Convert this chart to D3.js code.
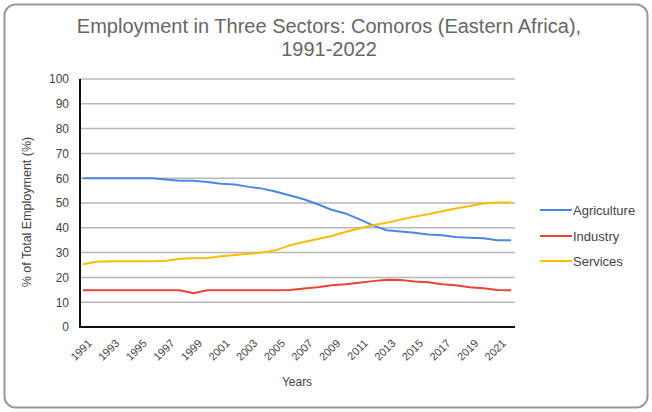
<!DOCTYPE html>
<html><head><meta charset="utf-8">
<script src="https://cdn.jsdelivr.net/npm/d3@7/dist/d3.min.js"></script>
<style>body{margin:0;background:#fff;} svg{display:block;font-family:"Liberation Sans",Arial,sans-serif;}</style>
</head><body><svg id="c" width="652" height="412"></svg>
<script>
const years = d3.range(1991, 2023).map(String);
const agriculture = [60,60,60,60,60,60,59.5,59,59,58.5,57.8,57.5,56.5,55.8,54.5,53,51.5,49.5,47.3,45.8,43.5,41,39,38.5,38,37.3,37,36.3,36,35.8,35,35];
const industry = [14.8,14.8,14.8,14.8,14.8,14.8,14.8,14.8,13.6,14.8,14.8,14.8,14.8,14.8,14.8,14.9,15.5,16,16.8,17.2,17.8,18.5,19.1,19,18.3,18,17.2,16.8,16,15.6,14.9,14.8];
const services = [25.3,26.3,26.5,26.5,26.5,26.5,26.7,27.5,27.7,27.8,28.5,29,29.5,30,31,33,34.3,35.5,36.7,38.3,39.7,41,42,43.3,44.5,45.5,46.7,47.8,48.8,49.8,50.2,50.2];
const seriesNames = ["Agriculture","Industry","Services"];
const seriesColors = ["#4a86e8","#ea4335","#fbbc04"];
const yTicks = d3.range(0, 101, 10);
const xTickLabels = years.filter((y,i)=>i%2===0);
const titleLines = ["Employment in Three Sectors: Comoros (Eastern Africa),","1991-2022"];

const svg = d3.select("#c");
svg.append("rect").attr("x",4.5).attr("y",4.5).attr("width",643).attr("height",403)
  .attr("rx",11).attr("fill","#fff").attr("stroke","#9a9a9a").attr("stroke-width",2);

const L=80, R=515, T=79, B=327;
const x = d3.scalePoint().domain(years).range([L+3, R-4]);
const y = d3.scaleLinear().domain([0,100]).range([B,T]);

// gridlines
svg.append("g").selectAll("line").data(yTicks.filter(d=>d>0)).join("line")
  .attr("x1",L).attr("x2",R).attr("y1",d=>y(d)).attr("y2",d=>y(d))
  .attr("stroke","#b7b7b7").attr("stroke-width",1.5);

// y axis
const ya = svg.append("g").attr("transform",`translate(${L},0)`)
  .call(d3.axisLeft(y).tickValues(yTicks).tickSize(0).tickPadding(11));
ya.select(".domain").remove();
ya.selectAll("text").attr("font-size",12).attr("fill","#444").attr("font-family","Liberation Sans, Arial, sans-serif");

// x axis
const xa = svg.append("g").attr("transform",`translate(0,${B})`)
  .call(d3.axisBottom(x).tickValues(xTickLabels).tickSize(0).tickPadding(6));
xa.select(".domain").remove();
xa.selectAll("text").attr("font-size",11).attr("fill","#444").attr("font-family","Liberation Sans, Arial, sans-serif")
  .attr("text-anchor","end").attr("dy","0.35em")
  .attr("transform","translate(2,10) rotate(-45)");

// axis lines
svg.append("line").attr("x1",L).attr("x2",L).attr("y1",T).attr("y2",B+1).attr("stroke","#111").attr("stroke-width",2);
svg.append("line").attr("x1",L-1).attr("x2",R).attr("y1",B).attr("y2",B).attr("stroke","#111").attr("stroke-width",2);

// lines
const data = [agriculture, industry, services];
const line = d3.line().x((d,i)=>x(years[i])).y(d=>y(d));
svg.append("g").selectAll("path").data(data).join("path")
  .attr("d",line).attr("fill","none").attr("stroke",(d,i)=>seriesColors[i]).attr("stroke-width",2);

// title
svg.append("g").selectAll("text").data(titleLines).join("text")
  .attr("x",329).attr("y",(d,i)=>33+i*23).attr("text-anchor","middle")
  .attr("font-size",20).attr("fill","#666").text(d=>d);

// axis titles
svg.append("text").attr("transform","translate(31,212) rotate(-90)").attr("text-anchor","middle")
  .attr("font-size",12.5).attr("fill","#444").text("% of Total Employment (%)");
svg.append("text").attr("x",297).attr("y",386).attr("text-anchor","middle")
  .attr("font-size",12).attr("fill","#444").text("Years");

// legend
const lg = svg.append("g").selectAll("g").data(seriesNames).join("g")
  .attr("transform",(d,i)=>`translate(540,${[210,236,261][i]})`);
lg.append("line").attr("x1",0).attr("x2",32).attr("stroke",(d,i)=>seriesColors[i]).attr("stroke-width",2);
lg.append("text").attr("x",33).attr("dy","0.35em").attr("font-size",13).attr("fill","#444").text(d=>d);
</script></body></html>
